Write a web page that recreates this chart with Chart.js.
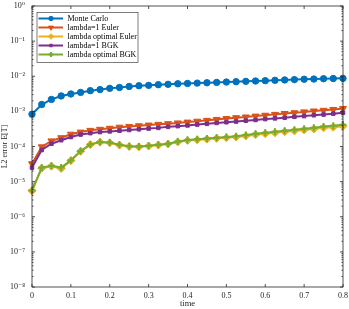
<!DOCTYPE html>
<html><head><meta charset="utf-8">
<script src="https://cdn.jsdelivr.net/npm/chart.js@4.4.0/dist/chart.umd.min.js"></script>
<style>html,body{margin:0;padding:0;background:#fff;}#wrap{width:349px;height:309px;}</style>
</head><body><div id="wrap"><canvas id="c" width="349" height="309"></canvas></div>
<script>
const seriesNames = ['Monte Carlo','lambda=1 Euler','lambda optimal Euler','lambda=1 BGK','lambda optimal BGK'];
const timeValues = [0,0.025,0.05,0.075,0.1,0.125,0.15,0.175,0.2,0.225,0.25,0.275,0.3,0.325,0.35,0.375,0.4,0.425,0.45,0.475,0.5,0.525,0.55,0.575,0.6,0.625,0.65,0.675,0.7,0.725,0.75,0.775,0.8];
const monteCarlo = [8.3e-4,1.57e-3,2.19e-3,2.75e-3,3.13e-3,3.47e-3,3.89e-3,4.17e-3,4.52e-3,4.79e-3,5.13e-3,5.37e-3,5.5e-3,5.75e-3,5.89e-3,6.1e-3,6.24e-3,6.38e-3,6.53e-3,6.68e-3,6.84e-3,7.0e-3,7.16e-3,7.33e-3,7.5e-3,7.67e-3,7.85e-3,8.04e-3,8.22e-3,8.32e-3,8.51e-3,8.61e-3,8.71e-3];
const lambda1Euler = [3.24e-5,9.77e-5,1.445e-4,1.78e-4,2.24e-4,2.57e-4,2.88e-4,3.09e-4,3.31e-4,3.55e-4,3.72e-4,3.89e-4,4.07e-4,4.27e-4,4.47e-4,4.68e-4,4.95e-4,5.25e-4,5.56e-4,5.89e-4,6.24e-4,6.61e-4,6.92e-4,7.33e-4,7.76e-4,8.22e-4,8.71e-4,9.12e-4,9.66e-4,1.023e-3,1.072e-3,1.135e-3,1.202e-3];
const lambdaOptEuler = [5.5e-6,2.4e-5,2.75e-5,2.35e-5,3.95e-5,7.3e-5,1.13e-4,1.33e-4,1.27e-4,1.10e-4,1.0e-4,9.8e-5,1.03e-4,1.10e-4,1.18e-4,1.35e-4,1.49e-4,1.55e-4,1.62e-4,1.71e-4,1.78e-4,1.86e-4,2.0e-4,2.16e-4,2.30e-4,2.46e-4,2.63e-4,2.78e-4,2.96e-4,3.16e-4,3.42e-4,3.55e-4,3.78e-4];
const lambda1BGK = [2.51e-5,7.94e-5,1.20e-4,1.51e-4,1.86e-4,2.19e-4,2.40e-4,2.57e-4,2.69e-4,2.82e-4,2.95e-4,3.09e-4,3.24e-4,3.39e-4,3.63e-4,3.80e-4,3.98e-4,4.22e-4,4.42e-4,4.68e-4,4.90e-4,5.13e-4,5.43e-4,5.69e-4,6.03e-4,6.31e-4,6.61e-4,7.00e-4,7.33e-4,7.76e-4,8.13e-4,8.61e-4,9.12e-4];
const lambdaOptBGK = [5.62e-6,2.51e-5,2.82e-5,2.51e-5,4.07e-5,7.41e-5,1.148e-4,1.35e-4,1.29e-4,1.12e-4,1.02e-4,1.0e-4,1.047e-4,1.12e-4,1.20e-4,1.38e-4,1.53e-4,1.60e-4,1.68e-4,1.78e-4,1.86e-4,1.95e-4,2.11e-4,2.29e-4,2.45e-4,2.63e-4,2.82e-4,2.99e-4,3.20e-4,3.43e-4,3.72e-4,3.89e-4,4.17e-4];
const xTickValues = [0,0.1,0.2,0.3,0.4,0.5,0.6,0.7,0.8];
const xTickLabels = ['0','0.1','0.2','0.3','0.4','0.5','0.6','0.7','0.8'];
const yTickExponents = [-8,-7,-6,-5,-4,-3,-2,-1,0];

const FONT = "'Liberation Serif','DejaVu Serif',serif";
const AXIS = '#262626';
const SUP = {'-':'\u207B','0':'\u2070','1':'\u00B9','2':'\u00B2','3':'\u00B3','4':'\u2074','5':'\u2075','6':'\u2076','7':'\u2077','8':'\u2078','9':'\u2079'};
const sup = n => String(n).split('').map(c => SUP[c]).join('');

const styles = [
  {color:'#0072BD', pointStyle:'circle', radius:3.2, legendRadius:2.2, rotation:0, bw:1},
  {color:'#D95319', pointStyle:'triangle', radius:4, legendRadius:2.8, rotation:180, bw:1},
  {color:'#EDB120', pointStyle:'rectRot', radius:4, legendRadius:2.8, rotation:0, bw:1},
  {color:'#7E2F8E', pointStyle:'rect', radius:2.5, legendRadius:1.8, rotation:0, bw:1},
  {color:'#77AC30', pointStyle:'cross', radius:3.5, legendRadius:2.4, rotation:0, bw:2}
];
const seriesData = [monteCarlo, lambda1Euler, lambdaOptEuler, lambda1BGK, lambdaOptBGK];

const datasets = seriesData.map((arr, i) => ({
  label: seriesNames[i],
  data: arr.map((v, j) => ({x: timeValues[j], y: v})),
  borderColor: styles[i].color,
  backgroundColor: styles[i].color,
  pointBackgroundColor: styles[i].color,
  pointBorderColor: styles[i].color,
  pointStyle: styles[i].pointStyle,
  pointRadius: styles[i].radius,
  pointRotation: styles[i].rotation,
  pointBorderWidth: styles[i].bw,
  borderWidth: 2,
  tension: 0,
  clip: false,
  order: 5 - i
}));

const boxTicks = {
  id: 'boxTicks',
  afterDatasetsDraw(chart) {
    const {ctx, chartArea: a, scales: {x, y}} = chart;
    ctx.save();
    ctx.strokeStyle = AXIS;
    ctx.lineWidth = 0.8;
    ctx.beginPath();
    xTickValues.forEach(v => {
      const px = x.getPixelForValue(v);
      ctx.moveTo(px, a.bottom); ctx.lineTo(px, a.bottom - 3);
      ctx.moveTo(px, a.top); ctx.lineTo(px, a.top + 3);
    });
    yTickExponents.forEach(e => {
      for (let m = 1; m <= 9; m++) {
        if (e === 0 && m > 1) break;
        const py = y.getPixelForValue(m * Math.pow(10, e));
        const len = m === 1 ? 3 : 1.5;
        ctx.moveTo(a.left, py); ctx.lineTo(a.left + len, py);
        ctx.moveTo(a.right, py); ctx.lineTo(a.right - len, py);
      }
    });
    ctx.stroke();
    ctx.strokeRect(a.left, a.top, a.right - a.left, a.bottom - a.top);
    ctx.restore();
  },
  afterDraw(chart) {
    const {ctx, chartArea: a} = chart;
    ctx.save();
    const bx = a.left + 5, by = a.top + 6.5, bw = 101, bh = 50, lh = 9;
    ctx.fillStyle = '#fff';
    ctx.fillRect(bx, by, bw, bh);
    ctx.strokeStyle = AXIS;
    ctx.lineWidth = 0.6;
    ctx.strokeRect(bx, by, bw, bh);
    ctx.font = '8px ' + FONT;
    ctx.textBaseline = 'middle';
    seriesNames.forEach((name, i) => {
      const s = styles[i];
      const cy = by + 6 + lh * i;
      ctx.strokeStyle = s.color;
      ctx.lineWidth = 2;
      ctx.beginPath();
      ctx.moveTo(bx + 1.5, cy); ctx.lineTo(bx + 26, cy);
      ctx.stroke();
      ctx.fillStyle = s.color;
      ctx.lineWidth = s.bw;
      Chart.helpers.drawPoint(ctx, {pointStyle: s.pointStyle, radius: s.legendRadius, rotation: s.rotation, borderWidth: s.bw}, bx + 14, cy);
      ctx.fillStyle = '#000';
      ctx.fillText(name, bx + 30.5, cy + 0.5);
    });
    ctx.restore();
  }
};

new Chart(document.getElementById('c'), {
  type: 'line',
  data: { datasets },
  options: {
    responsive: false,
    animation: false,
    devicePixelRatio: 1,
    layout: { padding: { top: 4, right: 5, left: 0, bottom: 0 } },
    plugins: { legend: { display: false }, tooltip: { enabled: false } },
    scales: {
      x: {
        type: 'linear', min: 0, max: 0.8,
        afterBuildTicks: s => { s.ticks = xTickValues.map(v => ({value: v})); },
        afterFit: s => { s.height = 22; s.paddingLeft = 0; s.paddingRight = 0; },
        ticks: { callback: (v, i) => xTickLabels[i], font: { family: FONT, size: 8 }, color: '#262626', padding: 4, maxRotation: 0 },
        grid: { display: false, drawTicks: false, tickLength: 0 },
        border: { display: false },
        title: { display: true, text: 'time', font: { family: FONT, size: 8.5 }, color: '#262626', padding: { top: 0, bottom: 0 } }
      },
      y: {
        type: 'logarithmic', min: 1e-8, max: 1,
        afterBuildTicks: s => { s.ticks = yTickExponents.map(e => ({value: Math.pow(10, e)})); },
        afterFit: s => { s.width = 32; s.paddingTop = 0; s.paddingBottom = 0; },
        ticks: { callback: v => '10' + sup(Math.round(Math.log10(v))), font: { family: FONT, size: 8 }, color: '#262626', padding: 7, autoSkip: false },
        grid: { display: false, drawTicks: false, tickLength: 0 },
        border: { display: false },
        title: { display: true, text: 'L2 error E[T]', font: { family: FONT, size: 8 }, color: '#262626', padding: { top: 0, bottom: 0 } }
      }
    }
  },
  plugins: [boxTicks]
});
</script>
</body></html>
